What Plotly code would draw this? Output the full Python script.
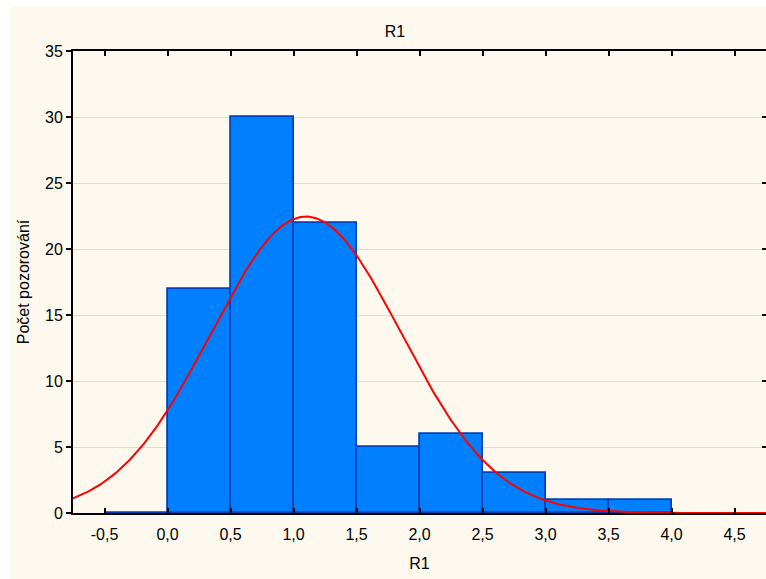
import numpy as np
import plotly.graph_objects as go

# Histogram data (bin lower edges, width 0.5)
bin_left = [-0.5, 0.0, 0.5, 1.0, 1.5, 2.0, 2.5, 3.0, 3.5]
counts = [0, 17, 30, 22, 5, 6, 3, 1, 1]
bin_width = 0.5

# Fitted normal curve parameters
fit_mean = 1.1
fit_sd = 0.755
n_obs = sum(counts)

x_tick_vals = [-0.5, 0.0, 0.5, 1.0, 1.5, 2.0, 2.5, 3.0, 3.5, 4.0, 4.5]
x_tick_text = ["-0,5", "0,0", "0,5", "1,0", "1,5", "2,0", "2,5", "3,0", "3,5", "4,0", "4,5"]
y_tick_vals = [0, 5, 10, 15, 20, 25, 30, 35]

x_range = [-0.75, 4.75]
y_range = [0, 35]

mids = [b + bin_width / 2 for b in bin_left]

xs = np.linspace(x_range[0], x_range[1], 400)
ys = n_obs * bin_width / (fit_sd * np.sqrt(2 * np.pi)) * np.exp(-((xs - fit_mean) ** 2) / (2 * fit_sd ** 2))

fig = go.Figure()
fig.add_trace(go.Bar(
    x=mids, y=counts, width=bin_width,
    marker=dict(color="#0080FF", line=dict(color="#0040B8", width=1.8)),
    showlegend=False, hoverinfo="x+y",
))
fig.add_trace(go.Scatter(
    x=xs, y=ys, mode="lines",
    line=dict(color="#FF0000", width=2),
    showlegend=False, cliponaxis=True,
))
# invisible trace so the right-hand tick axis is drawn
fig.add_trace(go.Scatter(x=[x_range[0]], y=[0], yaxis="y2", mode="markers",
                         marker=dict(opacity=0), showlegend=False, hoverinfo="skip"))

tick_font = dict(family="Liberation Sans, Arial, sans-serif", size=16, color="#000000")
title_font = dict(family="Liberation Sans, Arial, sans-serif", size=16, color="#000000")

fig.update_layout(
    width=766, height=579,
    margin=dict(l=73, r=0, t=51, b=66),
    paper_bgcolor="#FFFFFF",
    plot_bgcolor="#FFFFFF",
    font=tick_font,
    bargap=0,
    title=dict(text="R1", x=395 / 766, xanchor="center", y=1 - 31 / 579, yanchor="middle",
               font=title_font),
    xaxis=dict(
        range=x_range, tickvals=x_tick_vals, ticktext=x_tick_text,
        ticks="inside", ticklen=5, tickwidth=2, tickcolor="#000000",
        showline=True, linecolor="#000000", linewidth=2, mirror="ticks",
        showgrid=False, zeroline=False, ticklabelstandoff=6,
        title=dict(text="R1", standoff=16, font=title_font),
        tickfont=tick_font,
    ),
    yaxis=dict(
        range=y_range, tickvals=y_tick_vals,
        ticks="outside", ticklen=5, tickwidth=2, tickcolor="#000000",
        showline=True, linecolor="#000000", linewidth=2, mirror=False,
        showgrid=True, gridcolor="#DCDCDC", gridwidth=1, zeroline=False,
        title=dict(text="Počet pozorování", standoff=11, font=title_font),
        tickfont=tick_font,
    ),
    yaxis2=dict(
        range=y_range, tickvals=y_tick_vals, overlaying="y", side="right",
        ticks="inside", ticklen=4, tickwidth=2, tickcolor="#000000",
        showline=False, showgrid=False, zeroline=False, showticklabels=False,
    ),
    shapes=[
        dict(type="rect", xref="paper", yref="paper", layer="below",
             x0=-63 / 693, x1=1.01, y0=-66 / 462, y1=1 + 45 / 462,
             fillcolor="#FDF9EE", line=dict(width=0)),
    ],
)

fig.write_html("out.html")
